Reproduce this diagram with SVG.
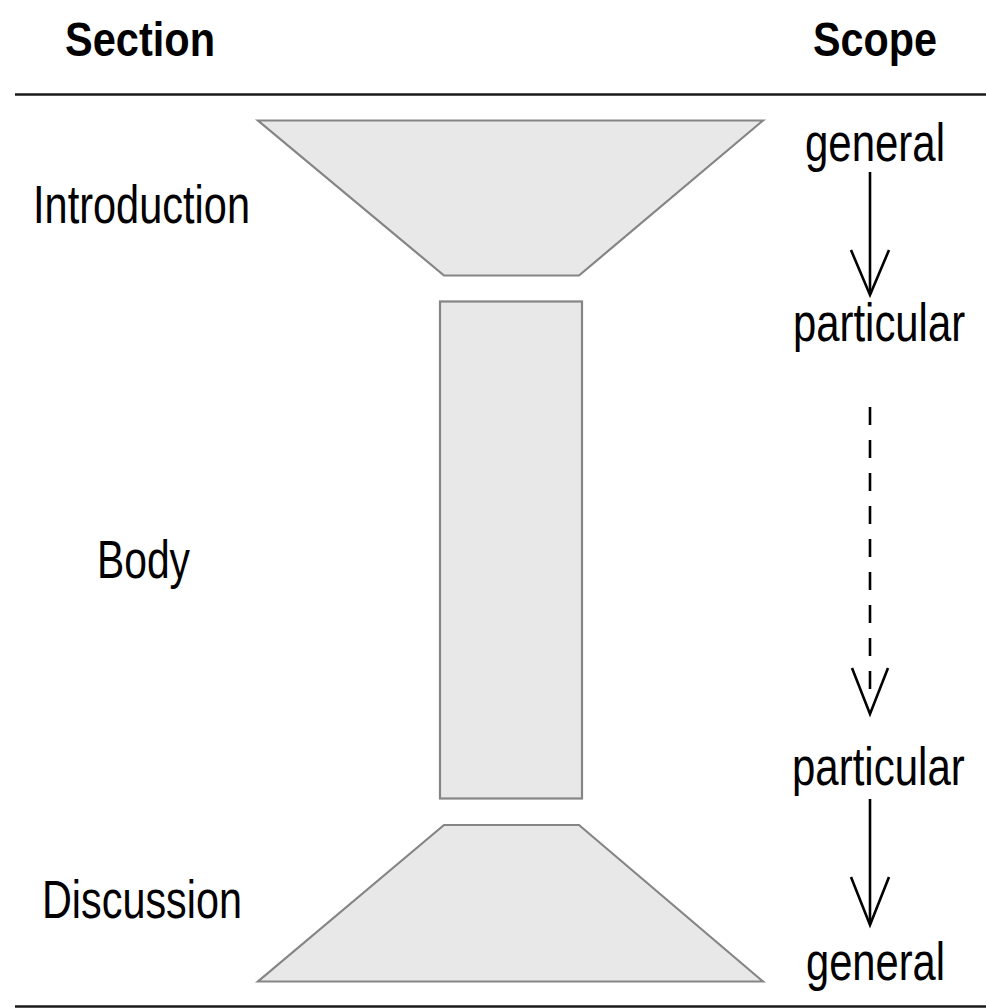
<svg xmlns="http://www.w3.org/2000/svg" width="986" height="1008" viewBox="0 0 986 1008">
<style>
.shape{fill:#e8e8e8;stroke:#858585;stroke-width:2.2;stroke-linejoin:miter}
.hd{font-family:"Liberation Sans",Arial,sans-serif;font-weight:bold;font-size:48px;fill:#000}
.lb{font-family:"Liberation Sans",Arial,sans-serif;font-size:54px;fill:#000}
.rule{stroke:#1a1a1a;stroke-width:2.4}
.conn{stroke:#000;stroke-width:2.6;fill:none}
.dash{stroke-dasharray:18 15}
</style>
<rect width="986" height="1008" fill="#fff"/>
<g id="header">
<text class="hd" x="65" y="56" textLength="150" lengthAdjust="spacingAndGlyphs">Section</text>
<text class="hd" x="813" y="56" textLength="124" lengthAdjust="spacingAndGlyphs">Scope</text>
<line class="rule" x1="15" y1="94.5" x2="986" y2="94.5"/>
</g>
<g id="introduction">
<polygon class="shape" points="258,120.5 763,120.5 579,275.5 444,275.5"/>
<text class="lb" x="33" y="223" textLength="217" lengthAdjust="spacingAndGlyphs">Introduction</text>
</g>
<g id="body">
<rect class="shape" x="440" y="301.5" width="142" height="497"/>
<text class="lb" x="97" y="578" textLength="93" lengthAdjust="spacingAndGlyphs">Body</text>
</g>
<g id="discussion">
<polygon class="shape" points="444,825 579,825 763,981.5 258,981.5"/>
<text class="lb" x="42" y="918" textLength="200" lengthAdjust="spacingAndGlyphs">Discussion</text>
</g>
<g id="scope-general-top">
<text class="lb" x="805" y="161" textLength="140" lengthAdjust="spacingAndGlyphs">general</text>
</g>
<g id="scope-particular-1">
<text class="lb" transform="translate(793,341) scale(0.775,1)" x="0" y="0">particular</text>
</g>
<g id="scope-particular-2">
<text class="lb" transform="translate(792,785) scale(0.778,1)" x="0" y="0">particular</text>
</g>
<g id="scope-general-bottom">
<text class="lb" x="806" y="980" textLength="139" lengthAdjust="spacingAndGlyphs">general</text>
</g>
<g id="connectors">
<line class="conn" x1="870" y1="172" x2="870" y2="294"/>
<polyline class="conn" points="851,250 870,295 889,250"/>
<line class="conn dash" x1="870" y1="407" x2="870" y2="690"/>
<polyline class="conn" points="852,668 870,714 888,668"/>
<line class="conn" x1="870" y1="799" x2="870" y2="924"/>
<polyline class="conn" points="851,877 870,925 889,877"/>
</g>
<g id="footer">
<line class="rule" x1="15" y1="1006.5" x2="986" y2="1006.5"/>
</g>
</svg>
